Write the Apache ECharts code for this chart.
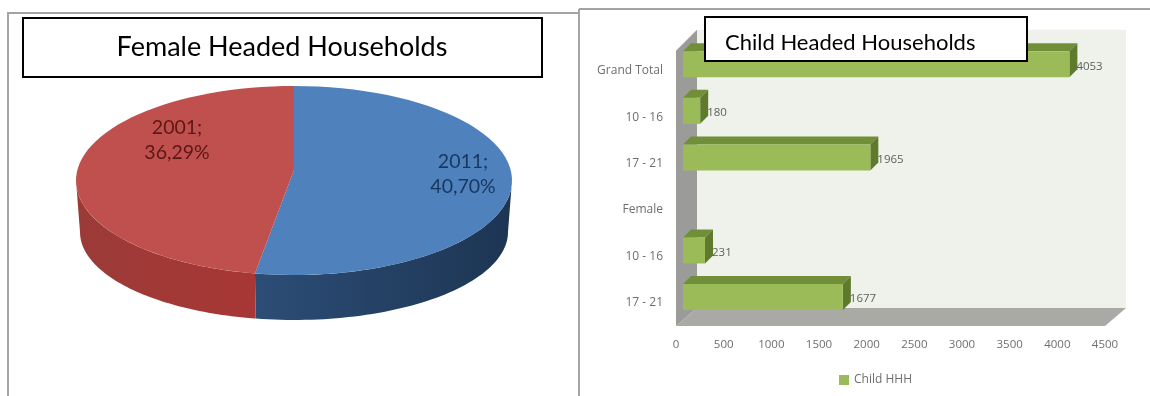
<!DOCTYPE html>
<html>
<head>
<meta charset="utf-8">
<style>html,body{margin:0;padding:0;background:#fff}#c{width:1150px;height:396px}</style>
<script src="https://cdn.jsdelivr.net/npm/echarts@6/dist/echarts.min.js"></script>
</head>
<body>
<div id="c"></div>
<script>
// Female headed households: share by census year
const pieYears = ['2011', '2001'];
const pieShares = [40.70, 36.29];

// Child headed households: counts by group, top to bottom
const barCategories = ['Grand Total', '10 - 16', '17 - 21', 'Female', '10 - 16', '17 - 21'];
const barValues = [4053, 180, 1965, null, 231, 1677];
const barSeriesName = 'Child HHH';
const xTicks = { min: 0, max: 4500, interval: 500 };

const FONT = '"Open Sans", sans-serif';
const TITLE_FONT = 'Lato, "Open Sans", sans-serif';
const pieTopColors = ['#4f81bd', '#c0504d'];
const pieWallColors = [['#2c4d76', '#1d3553'], ['#9a3b38', '#a83735']];
const pieLabelColors = ['#17375e', '#5c1715'];
const pieLabelAt = [[463, 174], [177, 140]];

// Tilted disc: upper rim, lower rim and the point where the slices meet
const upperRim = { cx: 294, cy: 180.5, rx: 218, ry: 94.5, apexY: 170 };
const lowerRim = { cx: 294, cy: 232, rx: 214, ry: 88 };
const rim = (e, a) => [e.cx + e.rx * Math.sin(a), e.cy - e.ry * Math.cos(a)];
const arc = (e, a0, a1) => {
  const pts = [], n = 60;
  for (let i = 0; i <= n; i++) pts.push(rim(e, a0 + (a1 - a0) * i / n));
  return pts;
};

function renderSlice(params, api) {
  const i = params.dataIndex;
  const total = pieShares.reduce((s, v) => s + v, 0);
  const before = pieShares.slice(0, i).reduce((s, v) => s + v, 0);
  const a0 = before / total * 2 * Math.PI;
  const a1 = (before + api.value(0)) / total * 2 * Math.PI;
  const children = [];
  // Only the part of the side wall facing the viewer shows
  const w0 = Math.max(a0, Math.PI / 2), w1 = Math.min(a1, Math.PI * 1.5);
  if (w1 > w0) {
    const upper = arc(upperRim, w0, w1), lower = arc(lowerRim, w0, w1).reverse();
    children.push({
      type: 'polygon',
      shape: { points: upper.concat(lower) },
      style: {
        fill: new echarts.graphic.LinearGradient(0, 0, 1, 0, [
          { offset: 0, color: pieWallColors[i][0] },
          { offset: 1, color: pieWallColors[i][1] }
        ])
      }
    });
  }
  children.push({
    type: 'polygon',
    shape: { points: [[upperRim.cx, upperRim.apexY]].concat(arc(upperRim, a0, a1)) },
    style: { fill: pieTopColors[i] }
  });
  children.push({
    type: 'text',
    z2: 5,
    style: {
      x: pieLabelAt[i][0], y: pieLabelAt[i][1],
      text: pieYears[i] + ';\n' + api.value(0).toFixed(2).replace('.', ',') + '%',
      fill: pieLabelColors[i],
      font: '19.5px ' + TITLE_FONT,
      lineHeight: 25,
      align: 'center', verticalAlign: 'middle'
    }
  });
  return { type: 'group', children };
}

// Back wall, side wall and floor around the plotting plane
const WALL_DX = 21, WALL_DY = 18;
function renderRoom(params) {
  const g = params.coordSys;
  const l = g.x, r = g.x + g.width, t = g.y + 3, b = g.y + g.height;
  const backTop = t - WALL_DY - 3, backBottom = b - WALL_DY;
  return {
    type: 'group',
    children: [
      { type: 'rect', shape: { x: l + WALL_DX, y: backTop, width: g.width, height: backBottom - backTop }, style: { fill: '#eef2ea' } },
      { type: 'polygon', shape: { points: [[l, t], [l + WALL_DX, backTop], [l + WALL_DX, backBottom], [l, b]] }, style: { fill: '#9b9c9a' } },
      { type: 'polygon', shape: { points: [[l, b], [r, b], [r + WALL_DX, backBottom], [l + WALL_DX, backBottom]] }, style: { fill: '#a9aaa6' } }
    ]
  };
}

// Top and end faces that give each bar its depth
const BAR_WIDTH = 26, BAR_DX = 8, BAR_DY = 8;
function renderBarDepth(params, api) {
  const end = api.coord([api.value(0), api.value(1)]);
  const start = api.coord([0, api.value(1)]);
  const y0 = end[1] - BAR_WIDTH / 2, y1 = end[1] + BAR_WIDTH / 2;
  return {
    type: 'group',
    children: [
      { type: 'polygon', shape: { points: [[start[0], y0], [end[0], y0], [end[0] + BAR_DX, y0 - BAR_DY], [start[0] + BAR_DX, y0 - BAR_DY]] }, style: { fill: '#718f38' } },
      { type: 'polygon', shape: { points: [[end[0], y0], [end[0] + BAR_DX, y0 - BAR_DY], [end[0] + BAR_DX, y1 - BAR_DY], [end[0], y1]] }, style: { fill: '#5f7a2d' } }
    ]
  };
}

const frameColor = '#a3a3a3';
const frame = (x1, y1, x2, y2) => ({ type: 'line', z: 8, shape: { x1, y1, x2, y2 }, style: { stroke: frameColor, lineWidth: 2 } });
const titleBox = (x, y, width, height, text, tx, ty, fontSize, align) => ({
  type: 'group', z: 10,
  children: [
    { type: 'rect', z: 10, shape: { x, y, width, height }, style: { fill: '#fff', stroke: '#000', lineWidth: 2 } },
    { type: 'text', z: 11, style: { x: tx, y: ty, text, fill: '#000', font: fontSize + 'px ' + TITLE_FONT, align, verticalAlign: 'middle' } }
  ]
});

const chart = echarts.init(document.getElementById('c'), null, { renderer: 'canvas' });
chart.setOption({
  animation: false,
  backgroundColor: '#fff',
  legend: {
    data: [{ name: barSeriesName, icon: 'rect' }],
    left: 839, top: 374, padding: 0,
    itemWidth: 10, itemHeight: 10, itemGap: 3,
    textStyle: { fontFamily: FONT, fontSize: 12, color: '#6e6e6e' },
    selectedMode: false
  },
  grid: [
    { left: 676, right: 45, top: 47.7, bottom: 70 },
    { left: 683, right: 38, top: 41, bottom: 75.7 }
  ],
  xAxis: [
    {
      gridIndex: 0, type: 'value', min: xTicks.min, max: xTicks.max, interval: xTicks.interval,
      axisLine: { show: false }, axisTick: { show: false }, splitLine: { show: false },
      axisLabel: { color: '#6e6e6e', fontFamily: FONT, fontSize: 11.5, margin: 13, hideOverlap: false, formatter: v => String(v) }
    },
    { gridIndex: 1, type: 'value', min: xTicks.min, max: xTicks.max, show: false }
  ],
  yAxis: [
    {
      gridIndex: 0, type: 'category', inverse: true, data: barCategories,
      axisLine: { show: false }, axisTick: { show: false },
      axisLabel: { color: '#6e6e6e', fontFamily: FONT, fontSize: 12, margin: 13 }
    },
    { gridIndex: 1, type: 'category', inverse: true, data: barCategories, show: false }
  ],
  series: [
    {
      type: 'custom', coordinateSystem: 'none', silent: true, z: 2,
      renderItem: renderSlice, data: pieShares.map(v => [v])
    },
    {
      type: 'custom', xAxisIndex: 0, yAxisIndex: 0, silent: true, z: 1,
      renderItem: renderRoom, data: [[0, 0]]
    },
    {
      type: 'custom', xAxisIndex: 1, yAxisIndex: 1, silent: true, z: 2,
      renderItem: renderBarDepth,
      encode: { x: 0, y: 1 },
      data: barValues.map((v, i) => [v, i]).filter(d => d[0] !== null)
    },
    {
      name: barSeriesName, type: 'bar', xAxisIndex: 1, yAxisIndex: 1, z: 3,
      barWidth: BAR_WIDTH,
      itemStyle: { color: '#9bbb59' },
      label: {
        show: true, position: 'right', distance: 7, offset: [0, 2],
        color: '#5f5f5f', fontFamily: FONT, fontSize: 11.5
      },
      data: barValues
    }
  ],
  graphic: [
    frame(7, 13, 578, 13),
    frame(8, 13, 8, 396),
    frame(579, 9, 1150, 9),
    frame(579, 9, 579, 396),
    titleBox(23, 18, 519, 59, 'Female Headed Households', 282, 47, 27, 'center'),
    titleBox(705, 17, 322, 44, 'Child Headed Households', 725, 43, 22, 'left')
  ]
});
</script>
</body>
</html>
